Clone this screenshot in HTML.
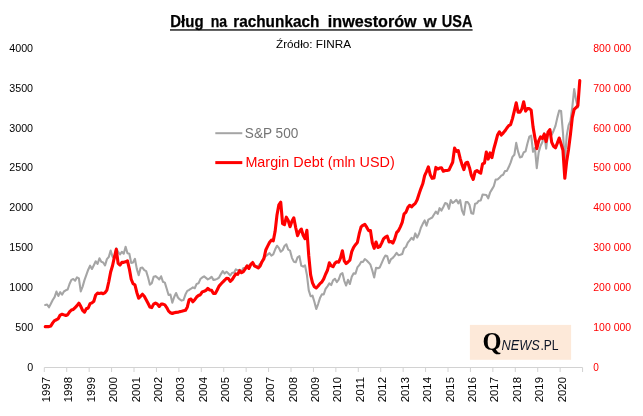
<!DOCTYPE html>
<html><head><meta charset="utf-8"><title>Dług na rachunkach inwestorów w USA</title>
<style>
html,body{margin:0;padding:0;background:#fff;}
body{width:643px;height:416px;overflow:hidden;font-family:"Liberation Sans",sans-serif;}
svg{display:block;}
text{font-family:"Liberation Sans",sans-serif;}
.ser{font-family:"Liberation Serif",serif;}
</style></head><body>
<svg width="643" height="416" viewBox="0 0 643 416">
<rect width="643" height="416" fill="#fff"/>
<text x="170.3" y="27.4" font-size="16.2" font-weight="bold" fill="#000" stroke="#000" stroke-width="0.25" textLength="33.3" lengthAdjust="spacingAndGlyphs">Dług</text>
<text x="210.8" y="27.4" font-size="16.2" font-weight="bold" fill="#000" stroke="#000" stroke-width="0.25" textLength="16.4" lengthAdjust="spacingAndGlyphs">na</text>
<text x="233.2" y="27.4" font-size="16.2" font-weight="bold" fill="#000" stroke="#000" stroke-width="0.25" textLength="86.2" lengthAdjust="spacingAndGlyphs">rachunkach</text>
<text x="327.8" y="27.4" font-size="16.2" font-weight="bold" fill="#000" stroke="#000" stroke-width="0.25" textLength="88.8" lengthAdjust="spacingAndGlyphs">inwestorów</text>
<text x="423.4" y="27.4" font-size="16.2" font-weight="bold" fill="#000" stroke="#000" stroke-width="0.25" textLength="13.2" lengthAdjust="spacingAndGlyphs">w</text>
<text x="441.8" y="27.4" font-size="16.2" font-weight="bold" fill="#000" stroke="#000" stroke-width="0.25" textLength="30.6" lengthAdjust="spacingAndGlyphs">USA</text>
<rect x="170" y="29.3" width="302.6" height="1.3" fill="#000"/>
<text x="276" y="47.8" font-size="11.3" fill="#000" textLength="75" lengthAdjust="spacingAndGlyphs">Źródło: FINRA</text>
<text x="33.1" y="371.10" font-size="10.8" text-anchor="end" fill="#000" textLength="5.97" lengthAdjust="spacingAndGlyphs">0</text>
<text x="33.1" y="331.18" font-size="10.8" text-anchor="end" fill="#000" textLength="17.91" lengthAdjust="spacingAndGlyphs">500</text>
<text x="33.1" y="291.25" font-size="10.8" text-anchor="end" fill="#000" textLength="23.88" lengthAdjust="spacingAndGlyphs">1000</text>
<text x="33.1" y="251.33" font-size="10.8" text-anchor="end" fill="#000" textLength="23.88" lengthAdjust="spacingAndGlyphs">1500</text>
<text x="33.1" y="211.40" font-size="10.8" text-anchor="end" fill="#000" textLength="23.88" lengthAdjust="spacingAndGlyphs">2000</text>
<text x="33.1" y="171.48" font-size="10.8" text-anchor="end" fill="#000" textLength="23.88" lengthAdjust="spacingAndGlyphs">2500</text>
<text x="33.1" y="131.55" font-size="10.8" text-anchor="end" fill="#000" textLength="23.88" lengthAdjust="spacingAndGlyphs">3000</text>
<text x="33.1" y="91.63" font-size="10.8" text-anchor="end" fill="#000" textLength="23.88" lengthAdjust="spacingAndGlyphs">3500</text>
<text x="33.1" y="51.70" font-size="10.8" text-anchor="end" fill="#000" textLength="23.88" lengthAdjust="spacingAndGlyphs">4000</text>
<text x="593.3" y="371.10" font-size="10.8" fill="#ff0000" textLength="5.60" lengthAdjust="spacingAndGlyphs">0</text>
<text x="593.3" y="331.18" font-size="10.8" fill="#ff0000" textLength="37.80" lengthAdjust="spacingAndGlyphs">100 000</text>
<text x="593.3" y="291.25" font-size="10.8" fill="#ff0000" textLength="37.80" lengthAdjust="spacingAndGlyphs">200 000</text>
<text x="593.3" y="251.33" font-size="10.8" fill="#ff0000" textLength="37.80" lengthAdjust="spacingAndGlyphs">300 000</text>
<text x="593.3" y="211.40" font-size="10.8" fill="#ff0000" textLength="37.80" lengthAdjust="spacingAndGlyphs">400 000</text>
<text x="593.3" y="171.48" font-size="10.8" fill="#ff0000" textLength="37.80" lengthAdjust="spacingAndGlyphs">500 000</text>
<text x="593.3" y="131.55" font-size="10.8" fill="#ff0000" textLength="37.80" lengthAdjust="spacingAndGlyphs">600 000</text>
<text x="593.3" y="91.63" font-size="10.8" fill="#ff0000" textLength="37.80" lengthAdjust="spacingAndGlyphs">700 000</text>
<text x="593.3" y="51.70" font-size="10.8" fill="#ff0000" textLength="37.80" lengthAdjust="spacingAndGlyphs">800 000</text>
<path d="M44.30 367.50 H582.57" stroke="#d2d2d2" stroke-width="1" fill="none"/>
<path d="M44.30 367.50 v4.5M66.73 367.50 v4.5M89.16 367.50 v4.5M111.58 367.50 v4.5M134.01 367.50 v4.5M156.44 367.50 v4.5M178.87 367.50 v4.5M201.30 367.50 v4.5M223.72 367.50 v4.5M246.15 367.50 v4.5M268.58 367.50 v4.5M291.01 367.50 v4.5M313.44 367.50 v4.5M335.86 367.50 v4.5M358.29 367.50 v4.5M380.72 367.50 v4.5M403.15 367.50 v4.5M425.58 367.50 v4.5M448.00 367.50 v4.5M470.43 367.50 v4.5M492.86 367.50 v4.5M515.29 367.50 v4.5M537.72 367.50 v4.5M560.14 367.50 v4.5M582.57 367.50 v4.5" stroke="#d2d2d2" stroke-width="1" fill="none"/>
<text transform="translate(49.90 402.3) rotate(-90)" font-size="10.8" fill="#000" textLength="25.3" lengthAdjust="spacingAndGlyphs">1997</text>
<text transform="translate(72.33 402.3) rotate(-90)" font-size="10.8" fill="#000" textLength="25.3" lengthAdjust="spacingAndGlyphs">1998</text>
<text transform="translate(94.76 402.3) rotate(-90)" font-size="10.8" fill="#000" textLength="25.3" lengthAdjust="spacingAndGlyphs">1999</text>
<text transform="translate(117.18 402.3) rotate(-90)" font-size="10.8" fill="#000" textLength="25.3" lengthAdjust="spacingAndGlyphs">2000</text>
<text transform="translate(139.61 402.3) rotate(-90)" font-size="10.8" fill="#000" textLength="25.3" lengthAdjust="spacingAndGlyphs">2001</text>
<text transform="translate(162.04 402.3) rotate(-90)" font-size="10.8" fill="#000" textLength="25.3" lengthAdjust="spacingAndGlyphs">2002</text>
<text transform="translate(184.47 402.3) rotate(-90)" font-size="10.8" fill="#000" textLength="25.3" lengthAdjust="spacingAndGlyphs">2003</text>
<text transform="translate(206.90 402.3) rotate(-90)" font-size="10.8" fill="#000" textLength="25.3" lengthAdjust="spacingAndGlyphs">2004</text>
<text transform="translate(229.32 402.3) rotate(-90)" font-size="10.8" fill="#000" textLength="25.3" lengthAdjust="spacingAndGlyphs">2005</text>
<text transform="translate(251.75 402.3) rotate(-90)" font-size="10.8" fill="#000" textLength="25.3" lengthAdjust="spacingAndGlyphs">2006</text>
<text transform="translate(274.18 402.3) rotate(-90)" font-size="10.8" fill="#000" textLength="25.3" lengthAdjust="spacingAndGlyphs">2007</text>
<text transform="translate(296.61 402.3) rotate(-90)" font-size="10.8" fill="#000" textLength="25.3" lengthAdjust="spacingAndGlyphs">2008</text>
<text transform="translate(319.04 402.3) rotate(-90)" font-size="10.8" fill="#000" textLength="25.3" lengthAdjust="spacingAndGlyphs">2009</text>
<text transform="translate(341.46 402.3) rotate(-90)" font-size="10.8" fill="#000" textLength="25.3" lengthAdjust="spacingAndGlyphs">2010</text>
<text transform="translate(363.89 402.3) rotate(-90)" font-size="10.8" fill="#000" textLength="25.3" lengthAdjust="spacingAndGlyphs">2011</text>
<text transform="translate(386.32 402.3) rotate(-90)" font-size="10.8" fill="#000" textLength="25.3" lengthAdjust="spacingAndGlyphs">2012</text>
<text transform="translate(408.75 402.3) rotate(-90)" font-size="10.8" fill="#000" textLength="25.3" lengthAdjust="spacingAndGlyphs">2013</text>
<text transform="translate(431.18 402.3) rotate(-90)" font-size="10.8" fill="#000" textLength="25.3" lengthAdjust="spacingAndGlyphs">2014</text>
<text transform="translate(453.60 402.3) rotate(-90)" font-size="10.8" fill="#000" textLength="25.3" lengthAdjust="spacingAndGlyphs">2015</text>
<text transform="translate(476.03 402.3) rotate(-90)" font-size="10.8" fill="#000" textLength="25.3" lengthAdjust="spacingAndGlyphs">2016</text>
<text transform="translate(498.46 402.3) rotate(-90)" font-size="10.8" fill="#000" textLength="25.3" lengthAdjust="spacingAndGlyphs">2017</text>
<text transform="translate(520.89 402.3) rotate(-90)" font-size="10.8" fill="#000" textLength="25.3" lengthAdjust="spacingAndGlyphs">2018</text>
<text transform="translate(543.32 402.3) rotate(-90)" font-size="10.8" fill="#000" textLength="25.3" lengthAdjust="spacingAndGlyphs">2019</text>
<text transform="translate(565.74 402.3) rotate(-90)" font-size="10.8" fill="#000" textLength="25.3" lengthAdjust="spacingAndGlyphs">2020</text>
<path d="M45.23 304.96 L47.10 304.59 L48.97 307.27 L50.84 303.75 L52.71 300.02 L54.58 297.09 L56.45 291.59 L58.32 295.95 L60.19 292.14 L62.06 294.74 L63.92 291.50 L65.79 290.30 L67.66 289.52 L69.53 284.03 L71.40 279.86 L73.27 279.06 L75.14 280.73 L77.01 277.30 L78.88 278.35 L80.75 291.35 L82.61 286.60 L84.48 280.10 L86.35 274.93 L88.22 269.71 L90.09 265.70 L91.96 268.99 L93.83 265.17 L95.70 261.29 L97.57 263.94 L99.44 258.30 L101.30 261.80 L103.17 262.46 L105.04 265.46 L106.91 259.08 L108.78 257.01 L110.65 250.62 L112.52 256.57 L114.39 258.80 L116.26 248.29 L118.13 251.96 L119.99 254.49 L121.86 251.79 L123.73 253.68 L125.60 246.77 L127.47 253.23 L129.34 253.79 L131.21 262.90 L133.08 262.47 L134.95 258.83 L136.82 268.86 L138.68 275.20 L140.55 268.11 L142.42 267.60 L144.29 270.10 L146.16 271.15 L148.03 277.32 L149.90 284.69 L151.77 283.19 L153.64 276.86 L155.51 276.17 L157.37 277.59 L159.24 279.46 L161.11 276.23 L162.98 281.83 L164.85 282.61 L166.72 288.76 L168.59 294.98 L170.46 294.63 L172.33 302.64 L174.20 297.04 L176.06 293.02 L177.93 297.51 L179.80 299.43 L181.67 300.59 L183.54 300.03 L185.41 294.56 L187.28 290.85 L189.15 289.98 L191.02 288.72 L192.89 287.31 L194.75 288.27 L196.62 283.92 L198.49 283.32 L200.36 279.05 L202.23 277.52 L204.10 276.42 L205.97 277.91 L207.84 279.41 L209.71 278.35 L211.58 276.75 L213.44 279.86 L215.31 279.66 L217.18 278.84 L219.05 277.59 L220.92 274.12 L222.79 271.09 L224.66 273.53 L226.53 271.75 L228.40 273.58 L230.27 275.47 L232.13 272.72 L234.00 272.73 L235.87 269.32 L237.74 270.42 L239.61 269.75 L241.48 271.48 L243.35 268.10 L245.22 268.20 L247.09 265.67 L248.96 265.62 L250.82 264.49 L252.69 263.24 L254.56 266.46 L256.43 266.46 L258.30 265.94 L260.17 263.78 L262.04 261.23 L263.91 257.88 L265.78 256.08 L267.65 254.67 L269.51 253.09 L271.38 255.59 L273.25 254.47 L275.12 249.58 L276.99 245.74 L278.86 247.91 L280.73 251.73 L282.60 250.24 L284.47 246.05 L286.34 244.25 L288.20 249.68 L290.07 250.69 L291.94 257.84 L293.81 261.65 L295.68 262.28 L297.55 257.28 L299.42 256.10 L301.29 265.68 L303.16 266.68 L305.03 265.45 L306.89 274.72 L308.76 290.44 L310.63 296.20 L312.50 295.65 L314.37 301.80 L316.24 309.02 L318.11 304.03 L319.98 298.07 L321.85 294.38 L323.72 294.37 L325.58 288.95 L327.45 286.31 L329.32 283.41 L331.19 285.07 L333.06 280.34 L334.93 278.79 L336.80 282.07 L338.67 279.64 L340.54 274.47 L342.41 273.10 L344.27 280.84 L346.14 285.51 L348.01 279.87 L349.88 284.03 L351.75 276.72 L353.62 273.37 L355.49 273.59 L357.36 267.45 L359.23 265.19 L361.10 261.92 L362.96 262.03 L364.83 259.02 L366.70 260.49 L368.57 262.44 L370.44 264.70 L372.31 270.54 L374.18 277.50 L376.05 267.80 L377.92 268.30 L379.79 267.46 L381.65 263.10 L383.52 258.86 L385.39 255.46 L387.26 256.30 L389.13 263.26 L391.00 259.14 L392.87 257.78 L394.74 255.61 L396.61 252.89 L398.48 255.16 L400.34 254.84 L402.21 254.05 L404.08 248.33 L405.95 247.01 L407.82 242.67 L409.69 240.41 L411.56 237.77 L413.43 239.72 L415.30 233.40 L417.17 237.60 L419.03 233.73 L420.90 227.77 L422.77 223.85 L424.64 220.46 L426.51 225.69 L428.38 219.58 L430.25 218.56 L432.12 217.63 L433.99 214.48 L435.86 211.56 L437.72 213.92 L439.59 208.13 L441.46 210.60 L443.33 206.96 L445.20 203.03 L447.07 203.71 L448.94 208.80 L450.81 200.09 L452.68 203.00 L454.55 201.60 L456.41 199.86 L458.28 203.38 L460.15 200.14 L462.02 210.61 L463.89 214.76 L465.76 202.09 L467.63 202.00 L469.50 204.90 L471.37 213.15 L473.24 213.79 L475.10 203.65 L476.97 203.21 L478.84 200.69 L480.71 200.54 L482.58 194.59 L484.45 194.80 L486.32 195.01 L488.19 198.36 L490.06 192.58 L491.93 189.40 L493.79 186.22 L495.66 179.47 L497.53 179.55 L499.40 177.84 L501.27 175.64 L503.14 174.72 L505.01 170.99 L506.88 170.88 L508.75 167.08 L510.62 162.64 L512.48 156.89 L514.35 154.81 L516.22 142.87 L518.09 151.61 L519.96 157.42 L521.83 156.85 L523.70 152.30 L525.57 151.25 L527.44 143.46 L529.31 136.68 L531.17 135.69 L533.04 151.78 L534.91 147.93 L536.78 168.08 L538.65 152.39 L540.52 145.99 L542.39 142.02 L544.26 133.16 L546.13 148.57 L548.00 133.48 L549.86 130.41 L551.73 134.70 L553.60 130.70 L555.47 125.86 L557.34 117.64 L559.21 110.49 L561.08 110.91 L562.95 132.49 L564.82 161.90 L566.69 135.82 L568.55 125.33 L570.42 120.87 L572.29 107.28 L574.16 89.05 L576.03 99.97 L577.90 107.37" stroke="#a5a5a5" stroke-width="2.1" fill="none" stroke-linejoin="round" stroke-linecap="round"/>
<path d="M45.23 326.64 L47.10 326.64 L48.97 326.64 L50.84 326.00 L52.71 322.89 L54.58 320.57 L56.45 319.77 L58.32 318.58 L60.19 315.06 L62.06 314.26 L63.92 314.90 L65.79 315.54 L67.66 314.74 L69.53 311.91 L71.40 310.03 L73.27 309.43 L75.14 307.55 L77.01 305.68 L78.88 303.16 L80.75 306.28 L82.61 310.35 L84.48 312.23 L86.35 308.79 L88.22 307.99 L90.09 303.64 L91.96 302.84 L93.83 301.28 L95.70 295.01 L97.57 293.14 L99.44 293.46 L101.30 293.02 L103.17 293.78 L105.04 292.70 L106.91 290.02 L108.78 281.75 L110.65 272.05 L112.52 265.78 L114.39 257.19 L116.26 249.28 L118.13 263.42 L119.99 265.02 L121.86 262.34 L123.73 262.34 L125.60 261.87 L127.47 260.79 L129.34 268.85 L131.21 279.24 L133.08 283.75 L134.95 284.83 L136.82 292.42 L138.68 298.17 L140.55 296.29 L142.42 294.25 L144.29 296.29 L146.16 299.73 L148.03 303.32 L149.90 306.91 L151.77 307.55 L153.64 304.12 L155.51 303.00 L157.37 304.12 L159.24 306.44 L161.11 304.12 L162.98 304.12 L164.85 304.88 L166.72 307.55 L168.59 311.15 L170.46 312.71 L172.33 313.50 L174.20 312.71 L176.06 312.39 L177.93 312.23 L179.80 311.63 L181.67 311.31 L183.54 310.83 L185.41 310.35 L187.28 307.23 L189.15 299.73 L191.02 299.09 L192.89 301.76 L194.75 299.73 L196.62 297.05 L198.49 295.49 L200.36 294.73 L202.23 291.90 L204.10 291.26 L205.97 290.34 L207.84 288.46 L209.71 290.02 L211.58 290.34 L213.44 293.46 L215.31 293.46 L217.18 290.02 L219.05 286.11 L220.92 284.03 L222.79 282.03 L224.66 280.24 L226.53 278.24 L228.40 278.64 L230.27 281.43 L232.13 279.64 L234.00 276.64 L235.87 273.93 L237.74 274.33 L239.61 270.65 L241.48 272.69 L243.35 271.57 L245.22 268.77 L247.09 265.94 L248.96 268.45 L250.82 264.38 L252.69 262.50 L254.56 265.94 L256.43 266.90 L258.30 267.98 L260.17 265.94 L262.04 261.71 L263.91 258.59 L265.78 250.00 L267.65 246.09 L269.51 242.50 L271.38 240.10 L273.25 240.90 L275.12 231.31 L276.99 214.94 L278.86 204.79 L280.73 202.16 L282.60 223.57 L284.47 224.64 L286.34 217.14 L288.20 220.53 L290.07 226.68 L291.94 221.21 L293.81 217.77 L295.68 227.48 L297.55 235.63 L299.42 231.39 L301.29 229.04 L303.16 235.31 L305.03 238.74 L306.89 230.27 L308.76 255.68 L310.63 274.96 L312.50 282.83 L314.37 286.71 L316.24 287.98 L318.11 285.95 L319.98 283.59 L321.85 282.03 L323.72 278.92 L325.58 274.21 L327.45 270.29 L329.32 262.86 L331.19 265.86 L333.06 266.70 L334.93 263.26 L336.80 261.71 L338.67 262.14 L340.54 257.79 L342.41 250.72 L344.27 260.91 L346.14 263.58 L348.01 261.99 L349.88 260.11 L351.75 251.68 L353.62 247.29 L355.49 244.69 L357.36 242.50 L359.23 233.71 L361.10 226.84 L362.96 225.28 L364.83 224.32 L366.70 227.16 L368.57 230.59 L370.44 230.59 L372.31 242.82 L374.18 248.29 L376.05 242.02 L377.92 247.49 L379.79 246.69 L381.65 243.09 L383.52 238.90 L385.39 237.10 L387.26 236.11 L389.13 242.02 L391.00 241.54 L392.87 243.09 L394.74 238.90 L396.61 232.63 L398.48 230.59 L400.34 226.84 L402.21 222.45 L404.08 213.86 L405.95 212.30 L407.82 207.59 L409.69 205.27 L411.56 206.83 L413.43 204.95 L415.30 203.40 L417.17 199.76 L419.03 193.97 L420.90 188.58 L422.77 183.79 L424.64 175.56 L426.51 171.65 L428.38 166.93 L430.25 174.76 L432.12 178.36 L433.99 177.88 L435.86 167.41 L437.72 169.01 L439.59 168.05 L441.46 167.73 L443.33 171.17 L445.20 170.53 L447.07 170.53 L448.94 170.09 L450.81 166.18 L452.68 162.26 L454.55 148.16 L456.41 151.32 L458.28 150.52 L460.15 158.35 L462.02 164.62 L463.89 169.61 L465.76 163.02 L467.63 162.26 L469.50 167.73 L471.37 175.56 L473.24 179.47 L475.10 171.65 L476.97 170.53 L478.84 172.13 L480.71 173.20 L482.58 163.82 L484.45 163.02 L486.32 152.08 L488.19 159.11 L490.06 152.88 L491.93 157.55 L493.79 148.96 L495.66 142.25 L497.53 135.06 L499.40 131.87 L501.27 135.06 L503.14 133.07 L505.01 130.83 L506.88 127.99 L508.75 125.64 L510.62 124.56 L512.48 118.61 L514.35 110.78 L516.22 102.79 L518.09 112.18 L519.96 112.18 L521.83 109.06 L523.70 101.72 L525.57 111.06 L527.44 108.59 L529.31 108.59 L531.17 110.14 L533.04 126.88 L534.91 137.66 L536.78 148.60 L538.65 140.81 L540.52 136.90 L542.39 138.46 L544.26 134.23 L546.13 141.57 L548.00 132.19 L549.86 129.55 L551.73 142.37 L553.60 146.29 L555.47 147.84 L557.34 143.13 L559.21 137.98 L561.08 143.93 L562.95 150.20 L564.82 178.32 L566.69 161.14 L568.55 149.40 L570.42 134.54 L572.29 117.69 L574.16 109.30 L576.03 107.51 L577.90 105.71 L579.77 80.55" stroke="#ff0000" stroke-width="3.1" fill="none" stroke-linejoin="round" stroke-linecap="round"/>
<path d="M215.3 133.2 H242.3" stroke="#a5a5a5" stroke-width="2" fill="none"/>
<text x="244.8" y="138.3" font-size="14.6" fill="#747474" textLength="53.5" lengthAdjust="spacingAndGlyphs">S&amp;P 500</text>
<path d="M215.3 162.6 H242.3" stroke="#ff0000" stroke-width="3" fill="none"/>
<text x="245.4" y="167.3" font-size="14.6" fill="#ff0000" textLength="149.3" lengthAdjust="spacingAndGlyphs">Margin Debt (mln USD)</text>
<rect x="469.9" y="324.9" width="101.2" height="34.9" fill="#fde9d9"/>
<text class="ser" x="482.6" y="350.1" font-size="24.5" font-weight="bold" fill="#000" textLength="19" lengthAdjust="spacingAndGlyphs">Q</text>
<text x="501.6" y="350.1" font-size="14.3" font-style="italic" fill="#0d1526" textLength="38.3" lengthAdjust="spacingAndGlyphs">NEWS</text>
<text x="540.4" y="350.1" font-size="14.4" fill="#0d1526" textLength="18.2" lengthAdjust="spacingAndGlyphs">.PL</text>
</svg>
</body></html>
